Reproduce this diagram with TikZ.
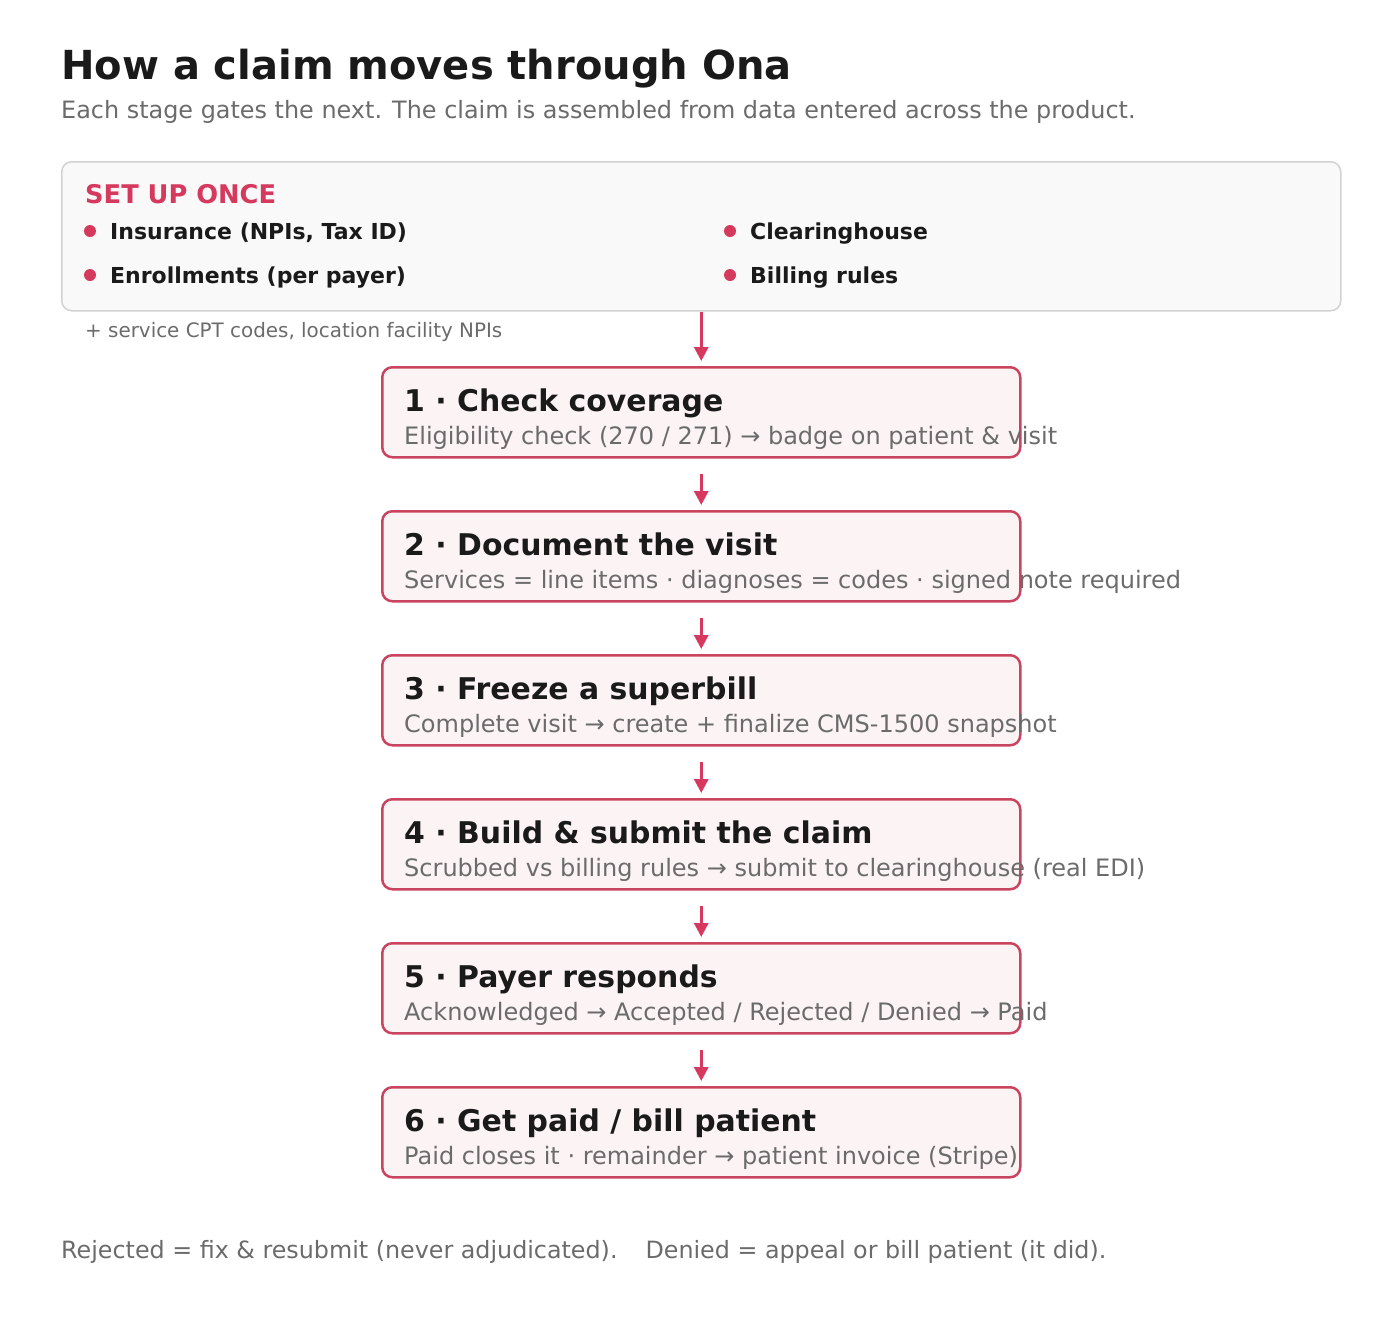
\documentclass[tikz,border=0pt]{standalone}
\usepackage{fontspec}
\setmainfont{DejaVu Sans}
\usetikzlibrary{arrows.meta,calc}
\definecolor{crim}{HTML}{D6395E}
\definecolor{boxedge}{HTML}{C9455F}
\definecolor{boxfill}{HTML}{FCF3F4}
\definecolor{setfill}{HTML}{F9F9F9}
\definecolor{setedge}{HTML}{D2D2D2}
\definecolor{graytxt}{HTML}{6B6B6B}
\definecolor{darktxt}{HTML}{1A1A1A}
\tikzset{
  stagebox/.style={draw=boxedge, line width=2.5pt, fill=boxfill, rounded corners=10pt, minimum width=638pt, minimum height=90pt, inner sep=0pt},
  stagetitle/.style={anchor=base west, inner sep=0pt, font=\fontsize{29.9}{34}\selectfont\bfseries, text=darktxt},
  stagesub/.style={anchor=base west, inner sep=0pt, font=\fontsize{24}{28}\selectfont, text=graytxt},
  bullettxt/.style={anchor=base west, inner sep=0pt, font=\fontsize{22}{26}\selectfont\bfseries, text=darktxt},
  bulletdot/.style={circle, fill=crim, inner sep=0pt, minimum size=12pt},
  flow/.style={draw=crim, line width=3pt, -{Triangle[length=14pt,width=14pt]}},
}
\begin{document}
\begin{tikzpicture}[x=1pt,y=-1pt]
\useasboundingbox (0,0) rectangle (1400,1320);
% title
\node[anchor=base west, inner sep=0pt, font=\fontsize{40}{46}\selectfont\bfseries, text=darktxt] (title) at (61,79) {How a claim moves through Ona};
\node[anchor=base west, inner sep=0pt, font=\fontsize{23.9}{28}\selectfont, text=graytxt] (subtitle) at (61,118) {Each stage gates the next. The claim is assembled from data entered across the product.};
% setup box
\node[draw=setedge, line width=1.5pt, fill=setfill, rounded corners=10pt, minimum width=1279pt, minimum height=149pt, inner sep=0pt, anchor=north west] (setup) at (61,161) {};
\node[anchor=base west, inner sep=0pt, font=\fontsize{25.7}{30}\selectfont\bfseries, text=crim] (setlabel) at (85,203) {SET UP ONCE};
\node[bulletdot] (d1) at (90,231) {};
\node[bullettxt] (t1) at (110,239) {Insurance (NPIs, Tax ID)};
\node[bulletdot] (d2) at (90,275) {};
\node[bullettxt] (t2) at (110,283) {Enrollments (per payer)};
\node[bulletdot] (d3) at (730,231) {};
\node[bullettxt] (t3) at (750,239) {Clearinghouse};
\node[bulletdot] (d4) at (730,275) {};
\node[bullettxt] (t4) at (750,283) {Billing rules};
\node[anchor=base west, inner sep=0pt, font=\fontsize{19.9}{24}\selectfont, text=graytxt] (note) at (85,337) {+ service CPT codes, location facility NPIs};
% stages
\foreach \i/\y/\t/\s in {
  1/366/{1 · Check coverage}/{Eligibility check (270 / 271) → badge on patient \& visit},
  2/510/{2 · Document the visit}/{Services = line items · diagnoses = codes · signed note required},
  3/654/{3 · Freeze a superbill}/{Complete visit → create + finalize CMS-1500 snapshot},
  4/798/{4 · Build \& submit the claim}/{Scrubbed vs billing rules → submit to clearinghouse (real EDI)},
  5/942/{5 · Payer responds}/{Acknowledged → Accepted / Rejected / Denied → Paid},
  6/1086/{6 · Get paid / bill patient}/{Paid closes it · remainder → patient invoice (Stripe)}}{
  \node[stagebox, anchor=north west] (b\i) at (381,\y) {};
  \node[stagetitle] (bt\i) at (404,\y+45) {\t};
  \node[stagesub] (bs\i) at (404,\y+78) {\s};
}
% arrows
\draw[flow] (setup.south -| b1.north) -- ($(b1.north)+(0,-5)$);
\foreach \a/\b in {1/2,2/3,3/4,4/5,5/6}{
  \draw[flow] ($(b\a.south)+(0,15)$) -- ($(b\b.north)+(0,-5)$);
}
% footer
\node[anchor=base west, inner sep=0pt, font=\fontsize{23.8}{28}\selectfont, text=graytxt] (footer) at (61,1258) {Rejected = fix \& resubmit (never adjudicated).\hspace{0.75em} Denied = appeal or bill patient (it did).};
\end{tikzpicture}
\end{document}
